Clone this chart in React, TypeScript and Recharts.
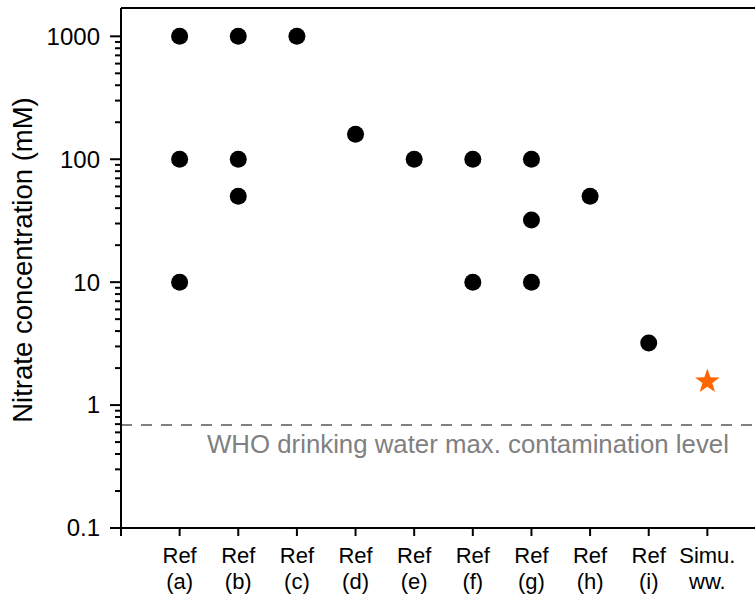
import React from 'react';
import { ScatterChart, Scatter, XAxis, YAxis, ReferenceLine } from 'recharts';

const categoryTop = ['', 'Ref', 'Ref', 'Ref', 'Ref', 'Ref', 'Ref', 'Ref', 'Ref', 'Ref', 'Simu.'];
const categoryBottom = ['', '(a)', '(b)', '(c)', '(d)', '(e)', '(f)', '(g)', '(h)', '(i)', 'ww.'];
const refValues: number[][] = [
  [1000, 100, 10],
  [1000, 100, 50],
  [1000],
  [160],
  [100],
  [100, 10],
  [100, 32, 10],
  [50],
  [3.2],
];
const simuValues = [1.6];
const whoLimit = 0.69;
const whoLabel = 'WHO drinking water max. contamination level';
const yMajorTicks = [0.1, 1, 10, 100, 1000];
const yMinorTicks = [
  0.2, 0.3, 0.4, 0.5, 0.6, 0.7, 0.8, 0.9,
  2, 3, 4, 5, 6, 7, 8, 9,
  20, 30, 40, 50, 60, 70, 80, 90,
  200, 300, 400, 500, 600, 700, 800, 900,
];
const xTicks = [0, 1, 2, 3, 4, 5, 6, 7, 8, 9, 10];
const yDomain = [0.1, 1700];
const xDomain = [0, 11];

const refData = refValues.flatMap((vals, i) => vals.map((v) => ({ x: i + 1, y: v })));
const simuData = simuValues.map((v) => ({ x: refValues.length + 1, y: v }));
const yTicks = [...yMajorTicks, ...yMinorTicks].sort((a, b) => a - b);

const FONT = '"Liberation Sans", Arial, sans-serif';

const YTick = (props: any) => {
  const { x, y, payload } = props;
  const v = payload.value;
  const major = yMajorTicks.includes(v);
  return (
    <g>
      <line x1={x - (major ? 11 : 6)} x2={x} y1={y} y2={y} stroke="#000" strokeWidth={2} />
      {major && (
        <text x={x - 21} y={y} dy="0.35em" textAnchor="end" fontSize={24} fill="#000" fontFamily={FONT}>
          {v}
        </text>
      )}
    </g>
  );
};

const XTick = (props: any) => {
  const { x, y, payload } = props;
  const i = payload.value;
  return (
    <g>
      <line x1={x} x2={x} y1={y} y2={y + 8} stroke="#000" strokeWidth={2} />
      <text x={x} y={y + 35} textAnchor="middle" fontSize={22} fill="#000" fontFamily={FONT}>
        {categoryTop[i]}
      </text>
      <text x={x} y={y + 61} textAnchor="middle" fontSize={22} fill="#000" fontFamily={FONT}>
        {categoryBottom[i]}
      </text>
    </g>
  );
};

const Dot = (props: any) => <circle cx={props.cx} cy={props.cy} r={8.5} fill="#000" />;

const Star = (props: any) => {
  const { cx, cy } = props;
  const R = 13;
  const r = 5.2;
  const pts: string[] = [];
  for (let k = 0; k < 10; k++) {
    const rad = k % 2 === 0 ? R : r;
    const a = -Math.PI / 2 + (k * Math.PI) / 5;
    pts.push(`${cx + rad * Math.cos(a)},${cy + 1.5 + rad * Math.sin(a)}`);
  }
  return <polygon points={pts.join(' ')} fill="#FF6600" />;
};

const YLabel = () => (
  <text
    x={22}
    y={260}
    transform="rotate(-90, 22, 260)"
    textAnchor="middle"
    dy="0.35em"
    fontSize={27.5}
    fill="#000"
    fontFamily={FONT}
  >
    Nitrate concentration (mM)
  </text>
);

const WhoLabel = (props: any) => {
  const vb = props.viewBox || {};
  return (
    <text x={vb.x + 86} y={vb.y + 28} fontSize={25.8} fill="#808080" fontFamily={FONT}>
      {whoLabel}
    </text>
  );
};

export default function App() {
  return (
    <div style={{ position: 'absolute', left: 0, top: 0, width: 755, height: 597, overflow: 'hidden', background: '#fff' }}>
      <ScatterChart width={766} height={597} margin={{ top: 8, right: 0, bottom: 0, left: 0 }}>
        <XAxis
          type="number"
          dataKey="x"
          domain={xDomain}
          ticks={xTicks}
          interval={0}
          height={69}
          axisLine={{ stroke: '#000', strokeWidth: 2 }}
          tickLine={false}
          tickSize={0}
          tickMargin={0}
          tick={<XTick />}
          allowDataOverflow
        />
        <YAxis
          type="number"
          dataKey="y"
          scale="log"
          domain={yDomain}
          ticks={yTicks}
          interval={0}
          width={121}
          axisLine={{ stroke: '#000', strokeWidth: 2 }}
          tickLine={false}
          tickSize={0}
          tickMargin={0}
          tick={<YTick />}
          allowDataOverflow
          label={() => <YLabel />}
        />
        <ReferenceLine y={yDomain[1]} stroke="#000" strokeWidth={2} />
        <ReferenceLine
          y={whoLimit}
          stroke="#808080"
          strokeWidth={2}
          strokeDasharray="11 9"
          label={(p: any) => <WhoLabel {...p} />}
        />
        <Scatter data={refData} shape={<Dot />} isAnimationActive={false} />
        <Scatter data={simuData} shape={<Star />} isAnimationActive={false} />
      </ScatterChart>
    </div>
  );
}
